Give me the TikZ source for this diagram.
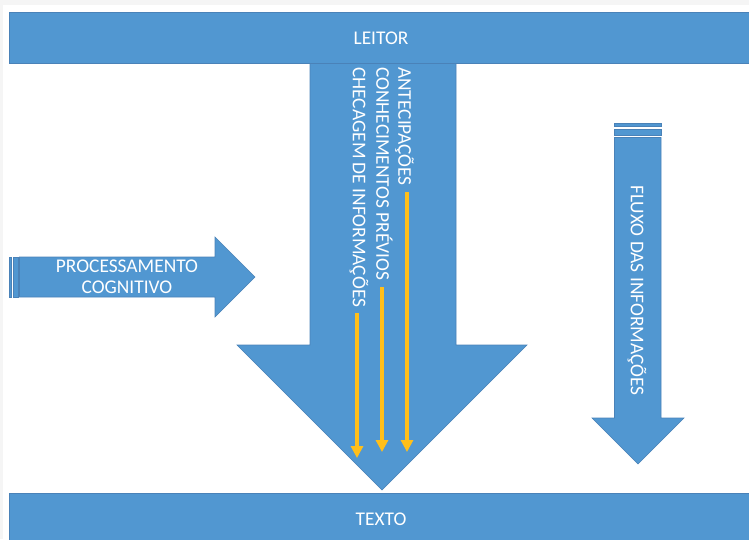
\documentclass[tikz,border=0pt]{standalone}
\usepackage{fontspec}
\setmainfont{Carlito}
\usetikzlibrary{arrows.meta}
\definecolor{shapeblue}{HTML}{5197D1}
\definecolor{shapeline}{HTML}{4A82B8}
\definecolor{ideayellow}{HTML}{FFBF1A}
\tikzset{
  blueshape/.style={fill=shapeblue, draw=shapeline, line width=0.6pt},
  whitetext/.style={text=white, font=\fontsize{19.4}{21}\selectfont, inner sep=0pt, text height=12.4pt, text depth=0pt},
  downtext/.style={whitetext, rotate=-90, anchor=west},
  yellowarrow/.style={draw=ideayellow, line width=4pt, -{Triangle[width=12pt,length=12pt]}}
}

\begin{document}
\begin{tikzpicture}[x=1pt,y=-1pt]
    \useasboundingbox (0,0) rectangle (749,539);
    \fill[gray!8] (0,0) rectangle (749,5);
    \fill[gray!8] (0,0) rectangle (3,539);
    \draw[blueshape] (310,63) -- (456,63) -- (456,345) -- (527,345) -- (382,490) -- (237,345) -- (310,345) -- cycle;
    \draw[blueshape] (9,12) rectangle (760,63);
    \draw[blueshape] (9,493) rectangle (760,545);
    \node[whitetext] (leitor) at (381,38) {LEITOR};
    \node[whitetext] (texto) at (381,519) {TEXTO};
    \draw[blueshape] (19.5,257) -- (215,257) -- (215,237) -- (255,277) -- (215,317) -- (215,297) -- (19.5,297) -- cycle;
    \draw[blueshape] (9,257) rectangle (11,297);
    \draw[blueshape] (13,257) rectangle (18,297);
    \node[whitetext, text height=, align=center] (processamento) at (127,277) {PROCESSAMENTO\\COGNITIVO};
    \draw[blueshape] (614.5,137.5) -- (661,137.5) -- (661,418) -- (684,418) -- (638,464) -- (592,418) -- (614.5,418) -- cycle;
    \draw[blueshape] (614.5,123.3) rectangle (661,126.7);
    \draw[blueshape] (614.5,129.3) rectangle (661,135.3);
    \node[downtext] (fluxo) at (637,185) {FLUXO DAS INFORMAÇÕES};
    \node[downtext] (antecipacoes) at (404.5,67) {ANTECIPAÇÕES};
    \node[downtext] (conhecimentos) at (382.5,67) {CONHECIMENTOS PRÉVIOS};
    \node[downtext] (checagem) at (359,67) {CHECAGEM DE INFORMAÇÕES};
    \coordinate (antecipacoes end) at (407,452);
    \coordinate (conhecimentos end) at (382,452);
    \coordinate (checagem end) at (357,458);
    \draw[yellowarrow] (407,192) -- (antecipacoes end);
    \draw[yellowarrow] (382,287) -- (conhecimentos end);
    \draw[yellowarrow] (357,313) -- (checagem end);
\end{tikzpicture}
\end{document}
